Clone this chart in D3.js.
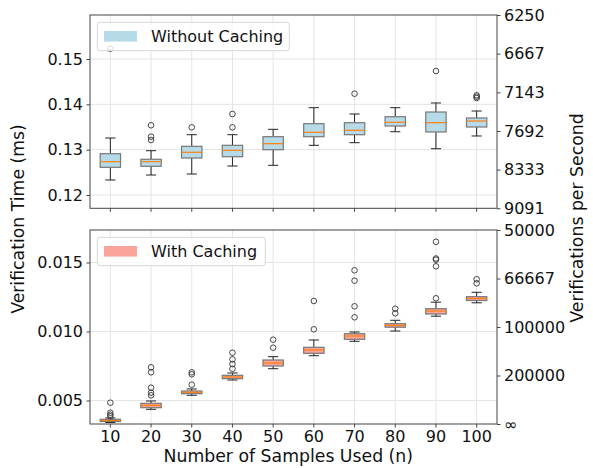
<!DOCTYPE html>
<html>
<head>
<meta charset="utf-8">
<script src="https://cdn.jsdelivr.net/npm/d3@7"></script>
<style>
  html, body { margin: 0; padding: 0; background: #fff; }
  svg { display: block; font-family: "DejaVu Sans", sans-serif; }
</style>
</head>
<body>
<svg id="chart" width="593" height="468"></svg>
<script>
// Sample counts on the shared x axis
const sampleCounts = [10, 20, 30, 40, 50, 60, 70, 80, 90, 100];

// Verification time without caching (ms): box statistics per sample count
const noCacheWhiskerLow  = [0.12331, 0.12441, 0.12463, 0.12640, 0.12655, 0.13096, 0.13154, 0.13396, 0.13021, 0.13302];
const noCacheQ1          = [0.12611, 0.12633, 0.12816, 0.12845, 0.12999, 0.13286, 0.13330, 0.13522, 0.13390, 0.13500];
const noCacheMedian      = [0.12735, 0.12735, 0.12942, 0.12986, 0.13132, 0.13383, 0.13427, 0.13604, 0.13595, 0.13632];
const noCacheQ3          = [0.12911, 0.12788, 0.13074, 0.13096, 0.13286, 0.13573, 0.13595, 0.13727, 0.13831, 0.13699];
const noCacheWhiskerHigh = [0.13257, 0.12977, 0.13330, 0.13330, 0.13449, 0.13926, 0.13787, 0.13926, 0.14030, 0.13853];
const noCacheOutliers    = [
  [0.15227],
  [0.13538, 0.13286, 0.13213],
  [0.13493],
  [0.13787, 0.13493],
  [],
  [],
  [0.14235],
  [],
  [0.14735],
  [0.14199, 0.14169, 0.14140]
];

// Verification time with caching (ms)
const cacheWhiskerLow  = [0.003406, 0.004362, 0.005377, 0.006486, 0.007304, 0.008246, 0.009290, 0.010036, 0.011109, 0.012080];
const cacheQ1          = [0.003478, 0.004478, 0.005493, 0.006580, 0.007500, 0.008420, 0.009435, 0.010312, 0.011268, 0.012246];
const cacheMedian      = [0.003551, 0.004652, 0.005594, 0.006703, 0.007717, 0.008659, 0.009674, 0.010449, 0.011486, 0.012391];
const cacheQ3          = [0.003638, 0.004797, 0.005688, 0.006826, 0.007935, 0.008855, 0.009841, 0.010565, 0.011652, 0.012522];
const cacheWhiskerHigh = [0.003732, 0.004964, 0.005833, 0.006993, 0.008174, 0.009384, 0.009964, 0.010812, 0.012123, 0.012841];
const cacheOutliers    = [
  [0.004841, 0.004116, 0.003971, 0.003855],
  [0.007406, 0.007043, 0.005928, 0.005565, 0.005377],
  [0.007043, 0.006899, 0.006145],
  [0.008464, 0.007986, 0.007638, 0.007297],
  [0.009406, 0.008826],
  [0.012210, 0.010159],
  [0.014435, 0.013681, 0.011826, 0.011029],
  [0.011652, 0.011319],
  [0.016500, 0.015290, 0.015203, 0.014725, 0.012406],
  [0.013783, 0.013493]
];

// Axis ticks
const noCacheTicks = [0.12, 0.13, 0.14, 0.15];
const cacheTicks = [0.005, 0.010, 0.015];
// Secondary (throughput) axis: time positions and the per-second labels
const noCacheRateTicks = [0.16, 0.15, 0.14, 0.13, 0.12, 0.11];
const noCacheRateLabels = ["6250", "6667", "7143", "7692", "8333", "9091"];
const cacheRateTicks = [0.020, 0.015, 0.010, 0.005, 0.0];
const cacheRateLabels = ["50000", "66667", "100000", "200000", "∞"];

const seriesNames = ["Without Caching", "With Caching"];

const svg = d3.select("#chart");
const left = 90, right = 497;
const fontSize = 16;

const x = d3.scaleBand().domain(sampleCounts).range([left, right]).paddingInner(0).paddingOuter(0);
const bw = x.bandwidth();
const cx = d => x(d) + bw / 2;

function buildStats(lo, q1, med, q3, hi, outl) {
  return sampleCounts.map((n, i) => ({ n, lo: lo[i], q1: q1[i], med: med[i], q3: q3[i], hi: hi[i], out: outl[i] }));
}

const panels = [
  {
    top: 15, bottom: 208.3, domain: [0.117066, 0.15971],
    ticks: noCacheTicks, fmt: d3.format(".2f"),
    rateDomain: [0.11, 0.16], rateTicks: noCacheRateTicks, rateLabels: noCacheRateLabels,
    stats: buildStats(noCacheWhiskerLow, noCacheQ1, noCacheMedian, noCacheQ3, noCacheWhiskerHigh, noCacheOutliers),
    fill: "#b7dae8", name: seriesNames[0], showX: false, legendW: 192
  },
  {
    top: 230, bottom: 424, domain: [0.003297, 0.017355],
    ticks: cacheTicks, fmt: d3.format(".3f"),
    rateDomain: [0.0, 0.020], rateTicks: cacheRateTicks, rateLabels: cacheRateLabels,
    stats: buildStats(cacheWhiskerLow, cacheQ1, cacheMedian, cacheQ3, cacheWhiskerHigh, cacheOutliers),
    fill: "#f9a59c", name: seriesNames[1], showX: true, legendW: 168
  }
];

panels.forEach(p => {
  const y = d3.scaleLinear().domain(p.domain).range([p.bottom, p.top]);
  const yRate = d3.scaleLinear().domain(p.rateDomain).range([p.bottom, p.top]);
  const g = svg.append("g");

  // grid
  const grid = g.append("g").attr("stroke", "#e4e4e4").attr("stroke-width", 1);
  sampleCounts.forEach(n => {
    grid.append("line").attr("x1", cx(n)).attr("x2", cx(n)).attr("y1", p.top).attr("y2", p.bottom);
  });
  p.ticks.forEach(t => {
    grid.append("line").attr("x1", left).attr("x2", right).attr("y1", y(t)).attr("y2", y(t));
  });

  // boxes
  const boxes = g.append("g").selectAll("g").data(p.stats).join("g");
  const half = bw * 0.25, cap = bw * 0.125;
  boxes.append("line").attr("x1", d => cx(d.n)).attr("x2", d => cx(d.n))
    .attr("y1", d => y(d.q1)).attr("y2", d => y(d.lo)).attr("stroke", "#222").attr("stroke-width", 1);
  boxes.append("line").attr("x1", d => cx(d.n)).attr("x2", d => cx(d.n))
    .attr("y1", d => y(d.q3)).attr("y2", d => y(d.hi)).attr("stroke", "#222").attr("stroke-width", 1);
  boxes.append("line").attr("x1", d => cx(d.n) - cap).attr("x2", d => cx(d.n) + cap)
    .attr("y1", d => y(d.lo)).attr("y2", d => y(d.lo)).attr("stroke", "#222").attr("stroke-width", 1);
  boxes.append("line").attr("x1", d => cx(d.n) - cap).attr("x2", d => cx(d.n) + cap)
    .attr("y1", d => y(d.hi)).attr("y2", d => y(d.hi)).attr("stroke", "#222").attr("stroke-width", 1);
  boxes.append("rect").attr("x", d => cx(d.n) - half).attr("width", half * 2)
    .attr("y", d => y(d.q3)).attr("height", d => Math.max(1, y(d.q1) - y(d.q3)))
    .attr("fill", p.fill).attr("stroke", "#777").attr("stroke-width", 1.2);
  boxes.append("line").attr("x1", d => cx(d.n) - half).attr("x2", d => cx(d.n) + half)
    .attr("y1", d => y(d.med)).attr("y2", d => y(d.med)).attr("stroke", "#ff7f0e").attr("stroke-width", 1.2);
  boxes.selectAll("circle").data(d => d.out.map(v => ({ n: d.n, v }))).join("circle")
    .attr("cx", d => cx(d.n)).attr("cy", d => y(d.v)).attr("r", 2.8)
    .attr("fill", "none").attr("stroke", "#333").attr("stroke-width", 0.9);

  // frame
  g.append("rect").attr("x", left).attr("y", p.top).attr("width", right - left).attr("height", p.bottom - p.top)
    .attr("fill", "none").attr("stroke", "#444").attr("stroke-width", 1);

  // left axis
  const ya = d3.axisLeft(y).tickValues(p.ticks).tickFormat(p.fmt).tickSize(3.5).tickPadding(3.5);
  const yg = g.append("g").attr("transform", `translate(${left},0)`).call(ya);
  yg.select(".domain").remove();
  yg.selectAll("text").attr("font-size", fontSize).attr("fill", "#111").attr("font-family", "DejaVu Sans");
  yg.selectAll("line").attr("stroke", "#444");

  // right (throughput) axis
  const ra = d3.axisRight(yRate).tickValues(p.rateTicks)
    .tickFormat((d, i) => p.rateLabels[i]).tickSize(3.5).tickPadding(3.5);
  const rg = g.append("g").attr("transform", `translate(${right},0)`).call(ra);
  rg.select(".domain").remove();
  rg.selectAll("text").attr("font-size", fontSize).attr("fill", "#111").attr("font-family", "DejaVu Sans");
  rg.selectAll("line").attr("stroke", "#444");

  // bottom axis
  const xa = d3.axisBottom(x).tickSize(3.5).tickPadding(3.5);
  if (!p.showX) xa.tickFormat("");
  const xg = g.append("g").attr("transform", `translate(0,${p.bottom})`).call(xa);
  xg.select(".domain").remove();
  xg.selectAll("text").attr("font-size", fontSize).attr("fill", "#111").attr("font-family", "DejaVu Sans");
  xg.selectAll("line").attr("stroke", "#444");

  // legend
  const lg = g.append("g").attr("transform", `translate(${left + 7.3},${p.top + 7.3})`);
  lg.append("rect").attr("width", p.legendW).attr("height", 28.4).attr("rx", 3)
    .attr("fill", "#fff").attr("fill-opacity", 0.8).attr("stroke", "#d6d6d6").attr("stroke-width", 1);
  lg.append("rect").attr("x", 6.7).attr("y", 8.7).attr("width", 33).attr("height", 10.6).attr("fill", p.fill);
  lg.append("text").attr("x", 53.7).attr("y", 20.2).attr("font-size", fontSize).attr("fill", "#111").text(p.name);
});

// axis titles
svg.append("text").attr("transform", "translate(24,219) rotate(-90)").attr("text-anchor", "middle")
  .attr("font-size", 17.3).attr("fill", "#111").text("Verification Time (ms)");
svg.append("text").attr("transform", "translate(583,218) rotate(-90)").attr("text-anchor", "middle")
  .attr("font-size", 17.3).attr("fill", "#111").text("Verifications per Second");
svg.append("text").attr("x", 288.3).attr("y", 461.5).attr("text-anchor", "middle")
  .attr("font-size", 17.3).attr("fill", "#111").text("Number of Samples Used (n)");
</script>
</body>
</html>
